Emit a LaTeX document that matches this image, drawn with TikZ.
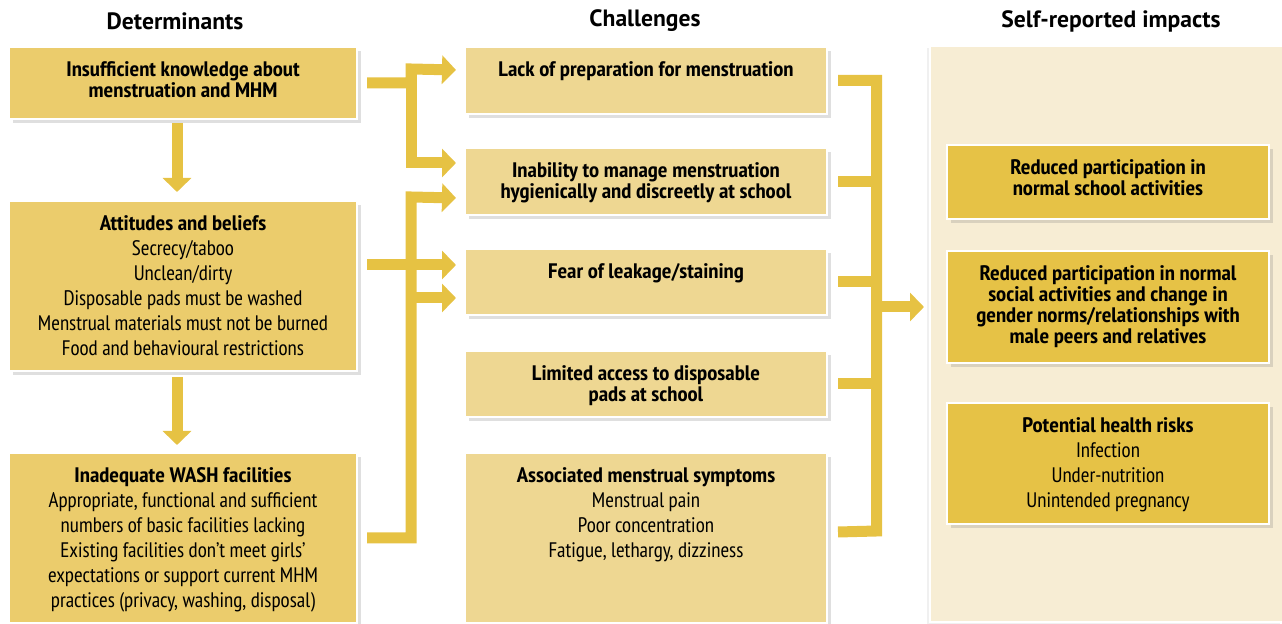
\documentclass[tikz,border=0pt]{standalone}
\definecolor{detyellow}{HTML}{EBCC6C}
\definecolor{chalyellow}{HTML}{EED792}
\definecolor{impyellow}{HTML}{E6C246}
\definecolor{arrowyellow}{HTML}{E6C243}
\definecolor{impback}{HTML}{F7EDD4}
\usepackage{fontspec}
\setmainfont{PT Sans Narrow}[BoldFeatures={FakeStretch=1.08}]
\newfontfamily\headfont{PT Sans}
\usepackage{tikz}
\usetikzlibrary{arrows.meta, positioning, shadows, calc}
\newcommand{\cardtext}[3]{\parbox[t][#2][t]{#1}{\centering\fontsize{10.5}{12.5}\selectfont\vspace*{6pt}\strut#3}}

\begin{document}
\begin{tikzpicture}[x=0.5pt, y=-0.5pt,
    card/.style={draw=white, line width=1pt, inner sep=0pt, anchor=north west,
      drop shadow={opacity=0.25, shadow xshift=2pt, shadow yshift=-2pt}},
    detcard/.style={card, fill=detyellow},
    chalcard/.style={card, fill=chalyellow},
    impcard/.style={card, fill=impyellow},
    headlabel/.style={font=\headfont\bfseries\fontsize{11.8}{14}\selectfont},
    bar/.style={draw=arrowyellow, line width=5.5pt, line join=miter},
    arr/.style={bar, -{Triangle[length=7pt, width=14pt]}}]
  \useasboundingbox (0,0) rectangle (1282,624);
  % Column headings
  \node[headlabel] (dethead) at (175,21) {Determinants};
  \node[headlabel] (chalhead) at (645,21) {Challenges};
  \node[headlabel] (imphead) at (1111,21) {Self-reported impacts};
  % Impacts panel
  \draw[fill=impback, draw=white, line width=1pt,
    drop shadow={opacity=0.12, shadow xshift=-1.5pt, shadow yshift=-1pt}] (930,46) rectangle (1283,622);
  % Determinants
  \node[detcard] (know) at (8,46) {\cardtext{174pt}{36pt}{\textbf{Insufficient knowledge about\\[-2pt] menstruation and MHM}}};
  \node[detcard] (att) at (8,200) {\cardtext{174pt}{85pt}{\textbf{Attitudes and beliefs}\\ Secrecy/taboo\\ Unclean/dirty\\ Disposable pads must be washed\\ Menstrual materials must not be burned\\ Food and behavioural restrictions}};
  \node[detcard] (wash) at (8,452) {\cardtext{174pt}{85pt}{\textbf{Inadequate WASH facilities}\\ Appropriate, functional and sufficient\\ numbers of basic facilities lacking\\ Existing facilities don’t meet girls’\\ expectations or support current MHM\\ practices (privacy, washing, disposal)}};
  % Challenges
  \node[chalcard] (lack) at (464,46) {\cardtext{181pt}{33.5pt}{\textbf{Lack of preparation for menstruation}}};
  \node[chalcard] (inab) at (464,147) {\cardtext{181pt}{33.5pt}{\textbf{Inability to manage menstruation\\[-2pt] hygienically and discreetly at school}}};
  \node[chalcard] (fear) at (464,248) {\cardtext{181pt}{33pt}{\textbf{Fear of leakage/staining}}};
  \node[chalcard] (pads) at (464,350) {\cardtext{181pt}{33pt}{\textbf{Limited access to disposable\\[-2pt] pads at school}}};
  \node[chalcard] (symp) at (464,452) {\cardtext{181pt}{85pt}{\textbf{Associated menstrual symptoms}\\ Menstrual pain\\ Poor concentration\\ Fatigue, lethargy, dizziness}};
  % Impacts
  \node[impcard] (school) at (946,144) {\cardtext{161pt}{37pt}{\textbf{Reduced participation in\\[-2pt] normal school activities}}};
  \node[impcard] (social) at (946,250) {\cardtext{161pt}{56pt}{\textbf{Reduced participation in normal\\[-2pt] social activities and change in\\[-2pt] gender norms/relationships with\\[-2pt] male peers and relatives}}};
  \node[impcard] (health) at (946,402) {\cardtext{161pt}{60.5pt}{\textbf{Potential health risks}\\ Infection\\ Under-nutrition\\ Unintended pregnancy}};
  % Down arrows
  \draw[arr] ([xshift=-3pt,yshift=-1.5pt]know.south) -- ([xshift=-3pt,yshift=4pt]att.north);
  \draw[arr] ([xshift=-3pt,yshift=-2.5pt]att.south) -- ([xshift=-3pt,yshift=3.5pt]wash.north);
  % Determinants to challenges
  \coordinate (ksplit) at (411,69);
  \coordinate (wsplit) at (411,197);
  \draw[arr] ([xshift=4.5pt]know.east) -| (ksplit) -- ([xshift=-4pt,yshift=5.25pt]lack.west);
  \draw[arr] (ksplit) |- ([xshift=-4pt,yshift=9.25pt]inab.west);
  \draw[arr] ([xshift=4.5pt]wash.east) -| (wsplit) -- ([xshift=-4pt,yshift=-8.25pt]inab.west);
  \draw[arr] ([yshift=-8pt]fear.west -| wsplit) -- ([xshift=-4pt,yshift=-8pt]fear.west);
  \draw[arr] ([xshift=4.5pt,yshift=10.5pt]att.east) -- ([xshift=-4pt,yshift=8.5pt]fear.west);
  % Challenges to impacts
  \coordinate (rbot) at (876.5,531);
  \draw[bar] ([xshift=5pt]lack.east) -| (rbot) -- ([xshift=5pt,yshift=3pt]symp.east);
  \foreach \c in {inab,fear,pads}
    \draw[bar] ([xshift=5pt]\c.east) -- (\c.east -| rbot);
  \draw[arr] (social.west -| rbot) -- ([xshift=-11pt]social.west);
\end{tikzpicture}
\end{document}
